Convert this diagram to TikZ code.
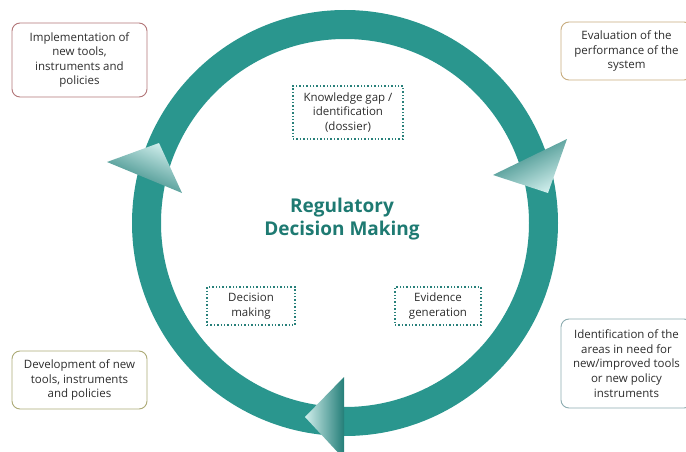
\documentclass[tikz,border=0pt]{standalone}
\usepackage{fontspec}
\setmainfont{Open Sans}
\usetikzlibrary{positioning}
\definecolor{ringteal}{RGB}{42,150,142}
\definecolor{headdark}{RGB}{36,126,120}
\definecolor{headlight}{RGB}{208,238,236}
\definecolor{titleteal}{RGB}{30,122,114}
\definecolor{dotteal}{RGB}{40,128,122}
\definecolor{textgrey}{RGB}{45,45,45}
\definecolor{redline}{RGB}{178,118,120}
\definecolor{tanline}{RGB}{200,172,126}
\definecolor{oliveline}{RGB}{172,170,118}
\definecolor{blueline}{RGB}{140,172,176}
\tikzset{
x=1pt, y=-1pt, % one unit is one pixel of the reference, y goes down
note/.style={draw, rounded corners=8pt, line width=0.9pt, fill=white, align=center, text=textgrey, font=\fontsize{11.5}{14.6}\selectfont, inner sep=2pt}, % the four outer boxes
stage/.style={draw=dotteal, dotted, line width=1.4pt, align=center, text=textgrey, font=\fontsize{11.5}{14.6}\selectfont, inner sep=2pt}, % the dotted boxes inside the ring
head/.style={left color=headlight, right color=headdark}, % the arrow heads on the ring
}

\begin{document}
\begin{tikzpicture}
\useasboundingbox (0,0) rectangle (686,452);
\clip (0,0) rectangle (686,452);

\coordinate (c) at (345,223);
\fill[ringteal, even odd rule] (c) circle (213pt) (c) circle (184pt);

% light end of each head is at 90+angle
\shade[head, shading angle=-153.4] (493,175) -- (567,139) -- (548,193) -- cycle;
\shade[head, shading angle=90] (344,377) -- (344,459) -- (305,417) -- cycle;
\shade[head, shading angle=-22.8] (107,162) -- (182,193) -- (159,143) -- cycle;

\node[text=titleteal, align=center, font=\fontsize{19}{23}\selectfont\bfseries] (title) at (342,219) {Regulatory\\Decision Making};

\node[stage, minimum width=110pt, minimum height=53pt] (gap) at (348,112.5) {Knowledge gap /\\identification\\(dossier)};
\node[stage, minimum width=88pt, minimum height=38pt] (decision) at (251,306) {Decision\\making};
\node[stage, minimum width=86pt, minimum height=38pt] (evidence) at (438,306) {Evidence\\generation};

\node[note, draw=redline, minimum width=135pt, minimum height=74pt] (implement) at (79.5,60) {Implementation of\\new tools,\\instruments and\\policies};
\node[note, draw=tanline, minimum width=131pt, minimum height=58pt] (evaluate) at (626.5,51) {Evaluation of the\\performance of the\\system};
\node[note, draw=oliveline, minimum width=135pt, minimum height=58pt] (develop) at (79.5,380) {Development of new\\tools, instruments\\and policies};
\node[note, draw=blueline, minimum width=131pt, minimum height=89pt] (identify) at (626.5,363.5) {Identification of the\\areas in need for\\new/improved tools\\or new policy\\instruments};

\end{tikzpicture}
\end{document}
